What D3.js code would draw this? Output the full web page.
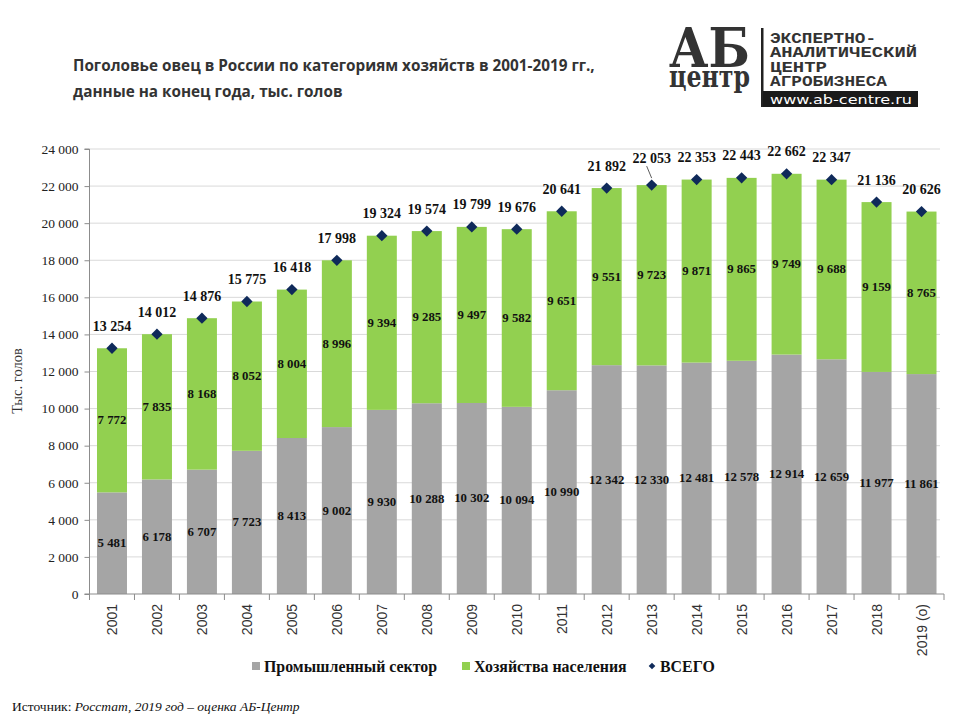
<!DOCTYPE html>
<html><head><meta charset="utf-8">
<script src="https://cdn.jsdelivr.net/npm/d3@7/dist/d3.min.js"></script>
<style>body{margin:0;background:#fff}</style>
</head><body>
<svg id="c" width="960" height="720"></svg>
<script>
const years = ["2001","2002","2003","2004","2005","2006","2007","2008","2009","2010","2011","2012","2013","2014","2015","2016","2017","2018","2019 (o)"];
const industrial = [5481,6178,6707,7723,8413,9002,9930,10288,10302,10094,10990,12342,12330,12481,12578,12914,12659,11977,11861];
const households = [7772,7835,8168,8052,8004,8996,9394,9285,9497,9582,9651,9551,9723,9871,9865,9749,9688,9159,8765];
const totals = [13254,14012,14876,15775,16418,17998,19324,19574,19799,19676,20641,21892,22053,22353,22443,22662,22347,21136,20626];
const yTicks = [0,2000,4000,6000,8000,10000,12000,14000,16000,18000,20000,22000,24000];

const svg = d3.select("#c");
const fmt = v => d3.format(",")(v).replace(/,/g, "\u00a0");
const L = 89.5, R = 944, T = 149, B = 594;
const x = d3.scaleBand().domain(years).range([L, R]).paddingInner(0.333).paddingOuter(0.1665);
const y = d3.scaleLinear().domain([0, 24000]).range([B, T]);
const GRAY = "#a5a5a5", GREEN = "#92d050", NAVY = "#0f2a5a";
const SERIF = "'Liberation Serif', 'Times New Roman', serif";

// gridlines
svg.append("g").selectAll("line").data(yTicks.filter(d => d > 0)).join("line")
  .attr("x1", L).attr("x2", R - 4).attr("y1", d => y(d)).attr("y2", d => y(d))
  .attr("stroke", "#d9d9d9").attr("stroke-width", 1);

// bars
const band = x.step();
years.forEach((yr, i) => {
  svg.append("rect").attr("x", x(yr)).attr("width", x.bandwidth())
    .attr("y", y(industrial[i])).attr("height", y(0) - y(industrial[i])).attr("fill", GRAY);
  svg.append("rect").attr("x", x(yr)).attr("width", x.bandwidth())
    .attr("y", y(industrial[i] + households[i])).attr("height", y(0) - y(households[i])).attr("fill", GREEN);
});

// y axis
const yAxis = d3.axisLeft(y).tickValues(yTicks).tickSize(5).tickFormat(fmt);
const ya = svg.append("g").attr("transform", `translate(${L},0)`).call(yAxis).attr("font-family", SERIF).attr("font-size", 13.5);
ya.select(".domain").attr("stroke", "#8c8c8c").attr("d", `M-5,${B}H0V${T}H-5`);
ya.selectAll(".tick line").attr("stroke", "#8c8c8c");
ya.selectAll("text").attr("fill", "#222").attr("dx", -3);

// x axis
const xa = svg.append("g").attr("transform", `translate(0,${B})`);
xa.append("line").attr("x1", L).attr("x2", R).attr("y1", 0).attr("y2", 0).attr("stroke", "#8c8c8c");
const bounds = d3.range(years.length + 1).map(i => L + i * band);
xa.selectAll(".tk").data(bounds).join("line").attr("class", "tk")
  .attr("x1", d => d).attr("x2", d => d).attr("y1", 0).attr("y2", 6).attr("stroke", "#8c8c8c");
xa.selectAll(".yl").data(years).join("text").attr("class", "yl")
  .attr("transform", d => `translate(${x(d) + x.bandwidth() / 2 + 5},${10}) rotate(-90)`)
  .attr("text-anchor", "end").attr("font-family", "Liberation Sans").attr("font-size", 14)
  .attr("fill", "#333").text(d => d);

// segment labels
const lblFont = s => s.attr("font-family", SERIF).attr("font-weight", "bold")
  .attr("font-size", 12.8).attr("text-anchor", "middle").attr("dominant-baseline", "central");
svg.append("g").selectAll("text").data(years).join("text")
  .attr("x", d => x(d) + x.bandwidth() / 2).attr("y", (d, i) => y(industrial[i] / 2))
  .attr("fill", "#111").text((d, i) => fmt(industrial[i])).call(lblFont);
svg.append("g").selectAll("text").data(years).join("text")
  .attr("x", d => x(d) + x.bandwidth() / 2).attr("y", (d, i) => y(industrial[i] + households[i] / 2))
  .attr("fill", "#111").text((d, i) => fmt(households[i])).call(lblFont);

// totals diamonds
svg.append("g").selectAll("path").data(years).join("path")
  .attr("d", d3.symbol().type(d3.symbolSquare).size(64))
  .attr("transform", (d, i) => `translate(${x(d) + x.bandwidth() / 2},${y(totals[i])}) rotate(45)`)
  .attr("fill", NAVY);
svg.append("g").selectAll("text").data(years).join("text")
  .attr("x", d => x(d) + x.bandwidth() / 2).attr("y", (d, i) => y(totals[i]) - 22 + (years[i] === "2013" ? -5 : 0))
  .attr("fill", "#111").text((d, i) => fmt(totals[i])).call(lblFont).attr("font-size", 14);
// leader line for 2013
{
  const cx = x("2013") + x.bandwidth() / 2;
  svg.append("line").attr("x1", cx - 5).attr("y1", y(totals[12]) - 19).attr("x2", cx).attr("y2", y(totals[12]) - 7)
    .attr("stroke", "#333").attr("stroke-width", 0.8);
}

// axis title
svg.append("text").attr("transform", "translate(22,381) rotate(-90)").attr("text-anchor", "middle")
  .attr("font-family", SERIF).attr("font-size", 14.5).attr("fill", "#333").text("Тыс. голов");

// title
const title = svg.append("text").attr("font-family", "Open Sans").attr("font-weight", "bold").attr("font-size", 15.3).attr("fill", "#333");
title.append("tspan").attr("x", 73).attr("y", 71).text("Поголовье овец в России по категориям хозяйств в 2001-2019 гг.,");
title.append("tspan").attr("x", 73).attr("y", 97).text("данные на конец года, тыс. голов");

// legend
const lg = svg.append("g").attr("font-family", SERIF).attr("font-weight", "bold").attr("font-size", 15.9).attr("fill", "#111");
lg.append("rect").attr("x", 252).attr("y", 662).attr("width", 8).attr("height", 8).attr("fill", GRAY);
lg.append("text").attr("x", 264).attr("y", 671.5).text("Промышленный сектор");
lg.append("rect").attr("x", 462).attr("y", 662).attr("width", 8).attr("height", 8).attr("fill", GREEN);
lg.append("text").attr("x", 474).attr("y", 671.5).text("Хозяйства населения");
lg.append("path").attr("d", d3.symbol().type(d3.symbolSquare).size(22)).attr("transform", "translate(652,666) rotate(45)").attr("fill", NAVY);
lg.append("text").attr("x", 660).attr("y", 671.5).text("ВСЕГО");

// source
const src = svg.append("text").attr("x", 12).attr("y", 711).attr("font-family", SERIF).attr("font-size", 13.5).attr("fill", "#111");
src.append("tspan").text("Источник: ");
src.append("tspan").attr("font-style", "italic").text(" Росстат, 2019 год – оценка АБ-Центр");

// logo
const lgo = svg.append("g").attr("fill", "#333");
const mark = lgo.append("text").attr("font-family", "DejaVu Serif").attr("font-weight", "bold");
mark.append("tspan").attr("x", 669).attr("y", 67).attr("font-size", 54).attr("textLength", 81).attr("lengthAdjust", "spacingAndGlyphs").text("АБ");
mark.append("tspan").attr("x", 669).attr("y", 87).attr("font-size", 30).attr("textLength", 81).attr("lengthAdjust", "spacingAndGlyphs").text("центр");
lgo.append("rect").attr("x", 761).attr("y", 28).attr("width", 2.5).attr("height", 79).attr("fill", "#222");
const ll = ["ЭКСПЕРТНО-","АНАЛИТИЧЕСКИЙ","ЦЕНТР","АГРОБИЗНЕСА"];
const lw = [106, 147, 57, 117];
ll.forEach((t, i) => lgo.append("text").attr("x", 770).attr("y", 43 + i * 14.3).attr("font-family", "Liberation Mono").attr("font-weight", "bold").attr("font-size", 14).attr("fill", "#333").attr("textLength", lw[i]).attr("lengthAdjust", "spacingAndGlyphs").text(t));
lgo.append("rect").attr("x", 763).attr("y", 91).attr("width", 155).attr("height", 16).attr("fill", "#1a1a1a");
lgo.append("text").attr("x", 770).attr("y", 104).attr("font-family", "DejaVu Sans").attr("font-size", 13).attr("fill", "#fff").attr("textLength", 142).attr("lengthAdjust", "spacingAndGlyphs").text("www.ab-centre.ru");
</script>
</body></html>
